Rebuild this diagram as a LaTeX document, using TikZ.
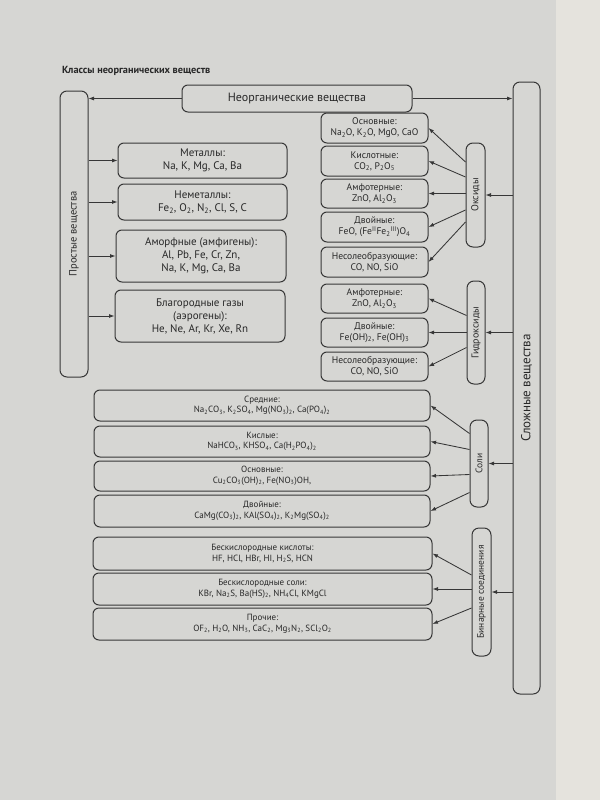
\documentclass[tikz,border=0pt]{standalone}
\usepackage{fontspec}
\setmainfont{PT Sans}
\usetikzlibrary{arrows.meta}
\definecolor{pagec}{RGB}{214,214,211}
\definecolor{edgec}{RGB}{229,227,221}
\definecolor{linec}{RGB}{55,55,55}
\definecolor{textc}{RGB}{40,40,40}
\newcommand\sub[1]{\textsubscript{#1}}
\newcommand\mkbox[6]{\node[#1,minimum width={(#4)-(#2)},minimum height={(#5)-(#3)}] (#6) at ({((#2)+(#4))/2},{((#3)+(#5))/2})}
\begin{document}
\begin{tikzpicture}[x=1pt,y=-1pt,
  box/.style={draw=linec,line width=1pt,rounded corners=6pt,inner sep=0pt,align=center,text=textc},
  bigbox/.style={box,font=\fontsize{11}{13}\selectfont},
  oxbox/.style={box,font=\fontsize{9.6}{11}\selectfont},
  saltbox/.style={box,font=\fontsize{9}{10.5}\selectfont},
  tallbox/.style={box,rounded corners=7pt},
  arr/.style={draw=linec,line width=0.85pt,-{Latex[length=5.5pt,width=4pt]}},
  tlab/.style={rotate=90,text=textc,inner sep=0pt}]
\useasboundingbox (0,0) rectangle (600,800);
\fill[pagec] (0,0) rectangle (600,800);
\fill[edgec] (556,0) rectangle (600,800);
\node[anchor=west,inner sep=0pt,text=textc,font=\bfseries\fontsize{10.3}{11}\selectfont] (title) at (62,71) {Классы неорганических веществ};
% top
\mkbox{box,font=\fontsize{12}{13}\selectfont}{182}{85}{412}{112}{inorg} {Неорганические вещества};
\mkbox{tallbox,label={[tlab,font=\fontsize{10.5}{12}\selectfont]center:Простые вещества}}{60}{91}{88}{377}{simple} {};
\mkbox{tallbox,label={[tlab,font=\fontsize{13}{14}\selectfont]center:Сложные вещества}}{513}{82}{540}{694}{slozh} {};
\draw[arr] (inorg.west) -- (simple.east |- inorg.west);
\draw[arr] (inorg.east) -- (slozh.west |- inorg.east);
% simple substances
\mkbox{bigbox}{118}{143}{287}{178}{met} {Металлы:\\Na, K, Mg, Ca, Ba};
\mkbox{bigbox}{118}{184}{287}{220}{nemet} {Неметаллы:\\Fe\sub{2}, O\sub{2}, N\sub{2}, Cl, S, C};
\mkbox{bigbox}{116}{230}{286}{282}{amorf} {Аморфные (амфигены):\\Al, Pb, Fe, Cr, Zn,\\Na, K, Mg, Ca, Ba};
\mkbox{bigbox}{115}{290}{285}{342}{gases} {Благородные газы\\(аэрогены):\\He, Ne, Ar, Kr, Xe, Rn};
\foreach \n in {met,nemet,amorf,gases}{\draw[arr] (simple.east |- \n.west) -- (\n.west);}
% oxides
\mkbox{oxbox}{321}{113}{428}{143}{oosn} {Основные:\\Na\sub{2}O, K\sub{2}O, MgO, CaO};
\mkbox{oxbox}{321}{146}{428}{176}{okis} {Кислотные:\\CO\sub{2}, P\sub{2}O\sub{5}};
\mkbox{oxbox}{321}{179}{428}{208}{oamf} {Амфотерные:\\ZnO, Al\sub{2}O\sub{3}};
\mkbox{oxbox}{321}{212}{428}{242}{odv} {Двойные:\\FeO, (Fe\textsuperscript{II}Fe\sub{2}\textsuperscript{III})O\sub{4}};
\mkbox{oxbox}{321}{247}{428}{277}{ones} {Несолеобразующие:\\CO, NO, SiO};
\mkbox{tallbox,label={[tlab,font=\fontsize{10}{11}\selectfont]center:Оксиды}}{466}{143}{485}{247}{oks} {};
\draw[arr] ([yshift=33pt]oks.west) -- (oosn.east);
\draw[arr] ([yshift=18pt]oks.west) -- (okis.east);
\draw[arr] (oks.west |- oamf.east) -- (oamf.east);
\draw[arr] ([yshift=-15pt]oks.west) -- (odv.east);
\draw[arr] ([yshift=-27pt]oks.west) -- (ones.east);
\draw[arr] (slozh.west |- oks.east) -- (oks.east);
% hydroxides
\mkbox{oxbox}{321}{284}{428}{313}{hamf} {Амфотерные:\\ZnO, Al\sub{2}O\sub{3}};
\mkbox{oxbox}{321}{318}{428}{347}{hdv} {Двойные:\\Fe(OH)\sub{2}, Fe(OH)\sub{3}};
\mkbox{oxbox}{321}{352}{428}{381}{hnes} {Несолеобразующие:\\CO, NO, SiO};
\mkbox{tallbox,label={[tlab,font=\fontsize{10}{11}\selectfont]center:Гидроксиды}}{467}{281}{485}{384}{hyd} {};
\draw[arr] ([yshift=17pt]hyd.west) -- (hamf.east);
\draw[arr] (hyd.west |- hdv.east) -- (hdv.east);
\draw[arr] ([yshift=-15pt]hyd.west) -- (hnes.east);
\draw[arr] (slozh.west |- hyd.east) -- (hyd.east);
% salts
\mkbox{saltbox}{94}{390}{430}{421}{ssr} {Средние:\\Na\sub{2}CO\sub{3}, K\sub{2}SO\sub{4}, Mg(NO\sub{3})\sub{2}, Ca(PO\sub{4})\sub{2}};
\mkbox{saltbox}{94}{426}{430}{457}{skis} {Кислые:\\NaHCO\sub{3}, KHSO\sub{4}, Ca(H\sub{2}PO\sub{4})\sub{2}};
\mkbox{saltbox}{94}{461}{430}{491}{sosn} {Основные:\\Cu\sub{2}CO\sub{3}(OH)\sub{2}, Fe(NO\sub{3})OH,};
\mkbox{saltbox}{94}{495}{430}{527}{sdv} {Двойные:\\CaMg(CO\sub{3})\sub{2}, KAl(SO\sub{4})\sub{2}, K\sub{2}Mg(SO\sub{4})\sub{2}};
\mkbox{tallbox,label={[tlab,font=\fontsize{9.5}{10.5}\selectfont]center:Соли}}{470}{420}{488}{507}{soli} {};
\draw[arr] ([yshift=30pt]soli.west) -- (ssr.east);
\draw[arr] ([yshift=14pt]soli.west) -- (skis.east);
\draw[arr] ([yshift=-11pt]soli.west) -- (sosn.east);
\draw[arr] ([yshift=-29pt]soli.west) -- (sdv.east);
\draw[arr] (slozh.west |- soli.east) -- (soli.east);
% binary
\mkbox{saltbox}{93}{537}{432}{570}{bkis} {Бескислородные кислоты:\\HF, HCl, HBr, HI, H\sub{2}S, HCN};
\mkbox{saltbox}{93}{573}{432}{605}{bsol} {Бескислородные соли:\\KBr, Na\sub{2}S, Ba(HS)\sub{2}, NH\sub{4}Cl, KMgCl};
\mkbox{saltbox}{93}{608}{432}{640}{bpr} {Прочие:\\OF\sub{2}, H\sub{2}O, NH\sub{3}, CaC\sub{2}, Mg\sub{3}N\sub{2}, SCl\sub{2}O\sub{2}};
\mkbox{tallbox,label={[tlab,font=\fontsize{9.5}{10.5}\selectfont]center:Бинарные соединения}}{472}{528}{491}{656}{bin} {};
\draw[arr] ([yshift=17pt]bin.west) -- (bkis.east);
\draw[arr] (bin.west |- bsol.east) -- (bsol.east);
\draw[arr] ([yshift=-16pt]bin.west) -- (bpr.east);
\draw[arr] (slozh.west |- bin.east) -- (bin.east);
\end{tikzpicture}
\end{document}
